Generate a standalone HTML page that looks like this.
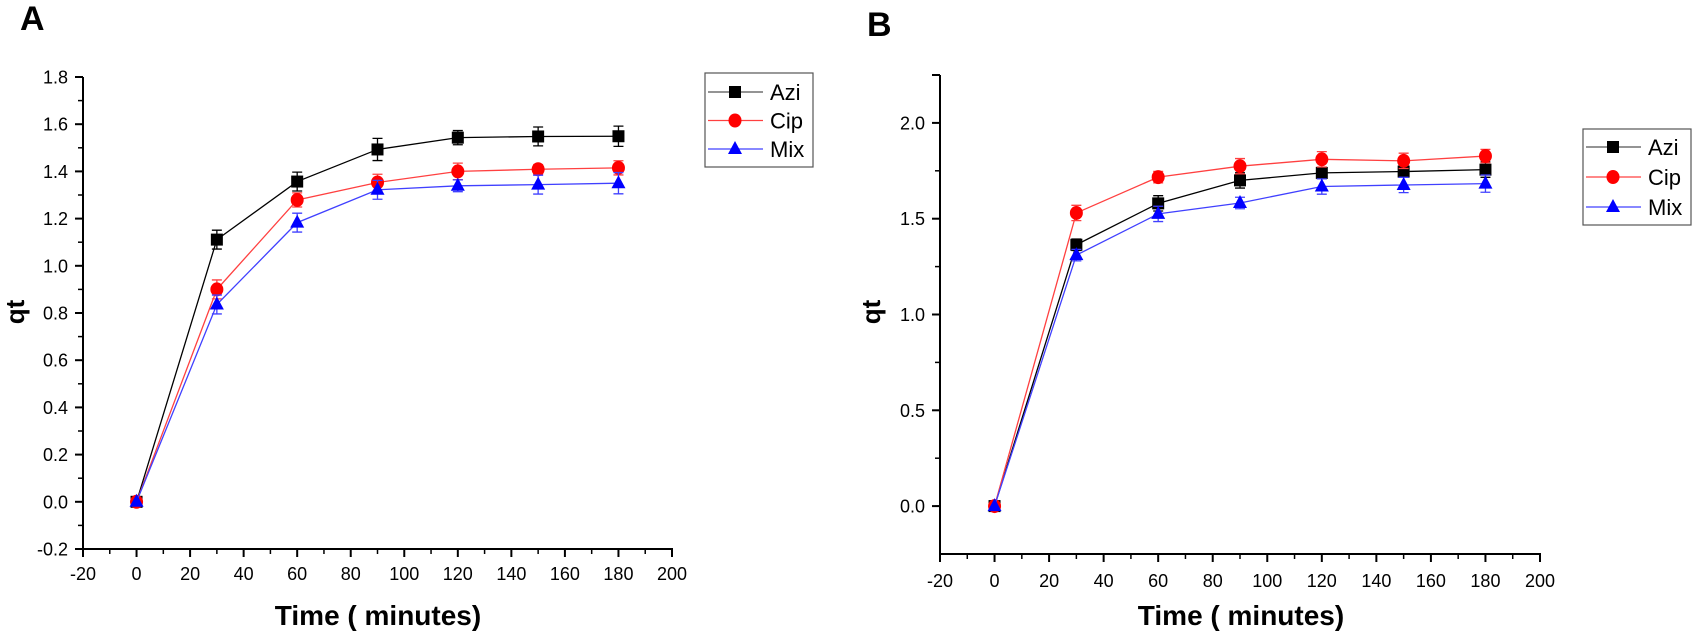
<!DOCTYPE html>
<html><head><meta charset="utf-8"><style>body{margin:0;background:#fff}svg{display:block;font-family:"Liberation Sans",Arial,sans-serif}</style></head>
<body>
<svg id="c" width="1692" height="636" viewBox="0 0 1692 636">
<text x="20" y="30" font-size="34" font-weight="bold">A</text>
<text x="867" y="36" font-size="34" font-weight="bold">B</text>
</svg>
<script>
const times = [0, 30, 60, 90, 120, 150, 180];
const seriesNames = ["Azi", "Cip", "Mix"];
const aAzi = [0, 1.111, 1.357, 1.493, 1.543, 1.548, 1.549];
const aCip = [0, 0.90, 1.279, 1.353, 1.40, 1.409, 1.415];
const aMix = [0, 0.836, 1.183, 1.322, 1.339, 1.344, 1.35];
const aAziErr = [0, 0.04, 0.04, 0.047, 0.03, 0.04, 0.043];
const aCipErr = [0, 0.04, 0.03, 0.035, 0.035, 0.02, 0.03];
const aMixErr = [0, 0.04, 0.04, 0.04, 0.025, 0.04, 0.045];
const bAzi = [0, 1.364, 1.58, 1.70, 1.739, 1.746, 1.756];
const bCip = [0, 1.53, 1.717, 1.774, 1.81, 1.802, 1.827];
const bMix = [0, 1.31, 1.525, 1.582, 1.668, 1.676, 1.683];
const bAziErr = [0, 0.03, 0.04, 0.04, 0.03, 0.03, 0.04];
const bCipErr = [0, 0.04, 0.03, 0.04, 0.04, 0.04, 0.035];
const bMixErr = [0, 0.03, 0.04, 0.03, 0.04, 0.04, 0.045];
const xTicks = [-20, 0, 20, 40, 60, 80, 100, 120, 140, 160, 180, 200];
const aYTicks = [-0.2, 0, 0.2, 0.4, 0.6, 0.8, 1.0, 1.2, 1.4, 1.6, 1.8];
const bYTicks = [0, 0.5, 1.0, 1.5, 2.0];

const NS = "http://www.w3.org/2000/svg";
const svg = document.getElementById("c");
function mk(tag, attrs, parent) {
  const e = document.createElementNS(NS, tag);
  for (const k in attrs) e.setAttribute(k, attrs[k]);
  (parent || svg).appendChild(e);
  return e;
}
const colors = ["#000", "#f00", "#00f"];
const lineColors = ["#000", "#ff4040", "#4040ff"];

function panel(p) {
  const g = mk("g", {});
  
  
  const sx = v => p.x0 + (v - (-20)) / 220 * (p.x1 - p.x0);
  const sy = v => p.yb + (v - p.ymin) / (p.ymax - p.ymin) * (p.yt - p.yb);
  const ax = mk("path", {d: `M${p.x0},${p.yt}H${p.x0 - 8}M${p.x0},${p.yt}V${p.yb}H${p.x1}V${p.yb + 8}`, stroke: "#000", "stroke-width": 2, fill: "none"}, g);
  
  
  xTicks.forEach((t, i) => {
    const x = sx(t);
    mk("line", {x1: x, x2: x, y1: p.yb, y2: p.yb + 8, stroke: "#000", "stroke-width": 2}, g);
    if (i < xTicks.length - 1) { const xm = sx(t + 10); mk("line", {x1: xm, x2: xm, y1: p.yb, y2: p.yb + 5, stroke: "#000", "stroke-width": 1.5}, g); }
    const tx = mk("text", {x: x, y: p.xlabY, "font-size": 18, "text-anchor": "middle"}, g);
    tx.textContent = t;
    
    
  });
  p.yTicks.forEach((t, i) => {
    const y = sy(t);
    mk("line", {x1: p.x0 - 8, x2: p.x0, y1: y, y2: y, stroke: "#000", "stroke-width": 2}, g);
    const ym = sy(t + p.ystep / 2);
    if (ym >= p.yt - 1) mk("line", {x1: p.x0 - 5, x2: p.x0, y1: ym, y2: ym, stroke: "#000", "stroke-width": 1.5}, g);
    const tx = mk("text", {x: p.x0 - 15, y: y + 6.5, "font-size": 18, "text-anchor": "end"}, g);
    tx.textContent = t.toFixed(1);
    
    
  });
  if (p.extraMinor) { const ym = sy(p.ymin + p.ystep / 2); mk("line", {x1: p.x0 - 5, x2: p.x0, y1: ym, y2: ym, stroke: "#000", "stroke-width": 1.5}, g); }
  const yt = mk("text", {x: 0, y: 0, "font-size": 26, "font-weight": "bold", "text-anchor": "middle", transform: `translate(${p.qtx},${p.qty}) rotate(-90)`}, g);
  yt.textContent = "qt";
  
  
  const xt = mk("text", {x: p.titleX, y: 625, "font-size": 28, "font-weight": "bold", "text-anchor": "middle"}, g);
  xt.textContent = "Time ( minutes)";
  
  
  p.series.forEach((s, k) => {
    const sg = mk("g", {}, g);
    
    
    mk("polyline", {points: times.map((t, i) => sx(t) + "," + sy(s[i])).join(" "), fill: "none", stroke: lineColors[k], "stroke-width": 1.3}, sg);
    times.forEach((t, i) => {
      const x = sx(t), y = sy(s[i]), e = p.errs[k][i];
      if (e > 0) {
        const y1 = sy(s[i] + e), y2 = sy(s[i] - e);
        mk("path", {d: `M${x},${y1}V${y2}M${x - 5},${y1}H${x + 5}M${x - 5},${y2}H${x + 5}`, stroke: lineColors[k], "stroke-width": 1.3, fill: "none"}, sg);
      }
      let m;
      if (k === 0) m = mk("rect", {x: x - 6, y: y - 6, width: 12, height: 12, fill: colors[k]}, sg);
      else if (k === 1) m = mk("ellipse", {cx: x, cy: y, rx: 6.5, ry: 7, fill: colors[k]}, sg);
      else m = mk("path", {d: `M${x},${y - 8}L${x + 7},${y + 5}L${x - 7},${y + 5}Z`, fill: colors[k]}, sg);
      
      
    });
  });
  const L = p.legend;
  const lg = mk("g", {}, g);
  
  
  mk("rect", {x: L.x, y: L.y, width: L.w, height: L.h, fill: "#fff", stroke: "#555", "stroke-width": 1.2}, lg);
  seriesNames.forEach((n, k) => {
    const y = L.y + L.r0 + k * L.dy, xm = L.x + 30;
    const e = mk("g", {}, lg);
    
    
    mk("line", {x1: L.x + 3, x2: L.x + 58, y1: y, y2: y, stroke: k === 0 ? "#555" : lineColors[k], "stroke-width": 1.3}, e);
    if (k === 0) mk("rect", {x: xm - 6, y: y - 6, width: 12, height: 12, fill: "#000"}, e);
    else if (k === 1) mk("ellipse", {cx: xm, cy: y, rx: 6.5, ry: 7, fill: "#f00"}, e);
    else mk("path", {d: `M${xm},${y - 8}L${xm + 7},${y + 5}L${xm - 7},${y + 5}Z`, fill: "#00f"}, e);
    const t = mk("text", {x: L.x + 65, y: y + 8, "font-size": 22}, e);
    t.textContent = n;
  });
}
panel({id: "panel-a", x0: 83, x1: 672, yt: 77, yb: 549, ymin: -0.2, ymax: 1.8, ystep: 0.2,
  yTicks: aYTicks, xlabY: 580, qtx: 24, qty: 312, titleX: 378,
  series: [aAzi, aCip, aMix], errs: [aAziErr, aCipErr, aMixErr],
  legend: {x: 705, y: 73, w: 108, h: 94, r0: 19, dy: 28.5}});
panel({id: "panel-b", x0: 940, x1: 1540, yt: 75, yb: 554, ymin: -0.25, ymax: 2.25, ystep: 0.5,
  yTicks: bYTicks, xlabY: 587, qtx: 880, qty: 312, titleX: 1241, extraMinor: true,
  series: [bAzi, bCip, bMix], errs: [bAziErr, bCipErr, bMixErr],
  legend: {x: 1583, y: 129, w: 108, h: 96, r0: 18, dy: 30}});
</script>
</body></html>
